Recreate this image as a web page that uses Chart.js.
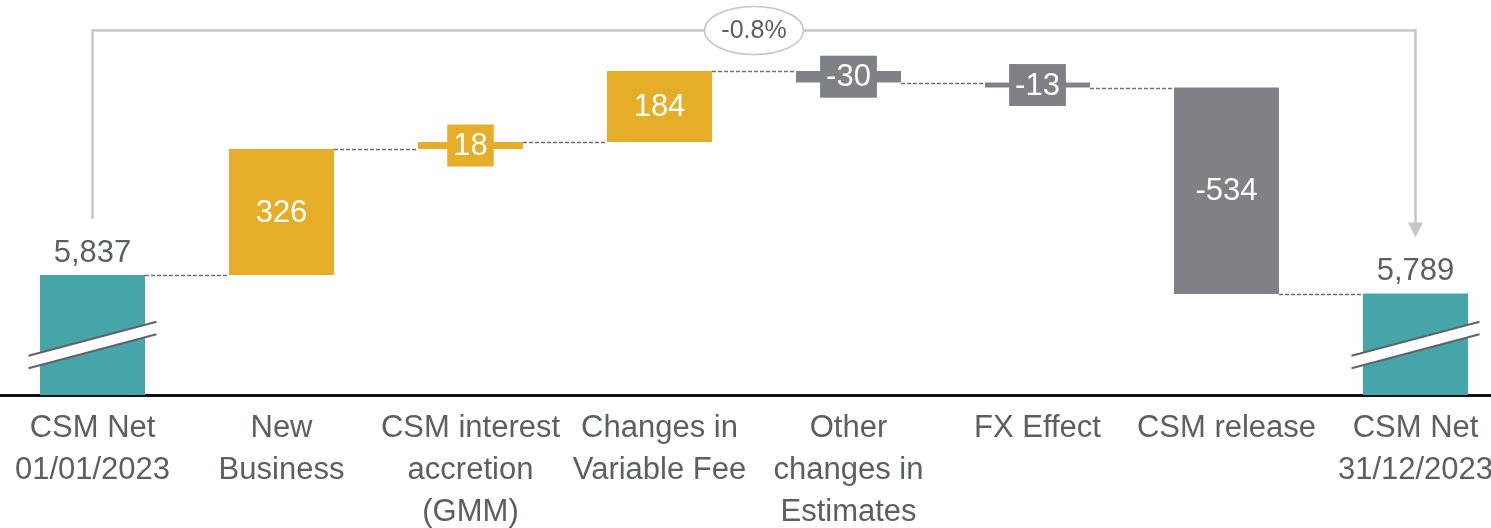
<!DOCTYPE html>
<html>
<head>
<meta charset="utf-8">
<script src="https://cdn.jsdelivr.net/npm/chart.js@4.4.1/dist/chart.umd.min.js"></script>
<style>
  html, body { margin: 0; padding: 0; background: #fff; overflow: hidden; width: 1491px; height: 528px; }
  #wrap { position: absolute; left: -2px; top: 0; width: 1512px; height: 545px; }
</style>
</head>
<body>
<div id="wrap"><canvas id="csmChart"></canvas></div>
<script>
var categories = [
    ['CSM Net', '01/01/2023'],
    ['New', 'Business'],
    ['CSM interest', 'accretion', '(GMM)'],
    ['Changes in', 'Variable Fee'],
    ['Other', 'changes in', 'Estimates'],
    ['FX Effect'],
    ['CSM release'],
    ['CSM Net', '31/12/2023']
];
var values  = [5837, 326, 18, 184, -30, -13, -534, 5789];
var isTotal = [true, false, false, false, false, false, false, true];

var teal   = '#46a5a8',
    orange = '#e6ad28',
    grey   = '#7e8286',
    text   = '#5a5f63',
    light  = '#c6c6c6';

// build floating bars from the running level
// ------------------------------------------------------ //
var ranges = [], ends = [], colors = [], level = 0;
values.forEach(function (v, i) {
    if (isTotal[i]) {
        ranges.push([0, v]);
        level = v;
        colors.push(teal);
    } else {
        ranges.push([level, level + v]);
        level += v;
        colors.push(v >= 0 ? orange : grey);
    }
    ends.push(level);
});

function fmt(v) {
    return v.toLocaleString('en-US');
}

var FONT = "'Liberation Sans', Arial, sans-serif";

var waterfallExtras = {
    id: 'waterfallExtras',
    afterDatasetsDraw: function (chart) {
        var ctx = chart.ctx,
            y = chart.scales.y,
            area = chart.chartArea,
            bars = chart.getDatasetMeta(0).data,
            i, b;

        // dashed connectors
        ctx.save();
        ctx.strokeStyle = '#707070';
        ctx.lineWidth = 1.3;
        ctx.setLineDash([4, 2]);
        for (i = 0; i < bars.length - 1; i++) {
            var py = Math.round(y.getPixelForValue(ends[i])) + 0.5;
            ctx.beginPath();
            ctx.moveTo(bars[i].x + bars[i].width / 2, py);
            ctx.lineTo(bars[i + 1].x - bars[i + 1].width / 2, py);
            ctx.stroke();
        }
        ctx.restore();

        // axis break marks on the totals
        ctx.save();
        for (i = 0; i < bars.length; i++) {
            if (!isTotal[i]) continue;
            b = bars[i];
            var cx = b.x, cy = area.bottom - 50, hw = 64, dy = 17, gap = 6.3;
            ctx.fillStyle = '#fff';
            ctx.beginPath();
            ctx.moveTo(cx - hw, cy - gap + dy);
            ctx.lineTo(cx + hw, cy - gap - dy);
            ctx.lineTo(cx + hw, cy + gap - dy);
            ctx.lineTo(cx - hw, cy + gap + dy);
            ctx.closePath();
            ctx.fill();
            ctx.strokeStyle = '#5f6366';
            ctx.lineWidth = 2;
            ctx.beginPath();
            ctx.moveTo(cx - hw, cy - gap + dy);
            ctx.lineTo(cx + hw, cy - gap - dy);
            ctx.moveTo(cx - hw, cy + gap + dy);
            ctx.lineTo(cx + hw, cy + gap - dy);
            ctx.stroke();
        }
        ctx.restore();

        // value labels
        ctx.save();
        ctx.font = '31px ' + FONT;
        ctx.textAlign = 'center';
        ctx.textBaseline = 'middle';
        for (i = 0; i < bars.length; i++) {
            b = bars[i];
            if (isTotal[i]) {
                ctx.fillStyle = text;
                ctx.fillText(fmt(values[i]), b.x, y.getPixelForValue(ends[i]) - 22);
            } else {
                var top = y.getPixelForValue(Math.max(ranges[i][0], ranges[i][1])),
                    bot = y.getPixelForValue(Math.min(ranges[i][0], ranges[i][1])),
                    my = (top + bot) / 2,
                    label = fmt(values[i]),
                    w = ctx.measureText(label).width + 12;
                ctx.fillStyle = colors[i];
                ctx.fillRect(b.x - w / 2, my - 21, w, 42);
                ctx.fillStyle = '#fff';
                ctx.fillText(label, b.x, my + 1);
            }
        }
        ctx.restore();

        // change bracket with arrow
        var first = bars[0], last = bars[bars.length - 1],
            lineY = 30.5,
            y0 = y.getPixelForValue(ends[0]) - 56,
            y1 = y.getPixelForValue(ends[ends.length - 1]) - 56;
        ctx.save();
        ctx.strokeStyle = light;
        ctx.fillStyle = light;
        ctx.lineWidth = 2.5;
        ctx.beginPath();
        ctx.moveTo(first.x, y0);
        ctx.lineTo(first.x, lineY);
        ctx.lineTo(last.x, lineY);
        ctx.lineTo(last.x, y1 - 14);
        ctx.stroke();
        ctx.beginPath();
        ctx.moveTo(last.x - 7.5, y1 - 15);
        ctx.lineTo(last.x + 7.5, y1 - 15);
        ctx.lineTo(last.x, y1);
        ctx.closePath();
        ctx.fill();

        var ex = (first.x + last.x) / 2,
            pct = (values[values.length - 1] - values[0]) / values[0] * 100;
        ctx.beginPath();
        ctx.ellipse(ex, lineY, 49.5, 24, 0, 0, Math.PI * 2);
        ctx.fillStyle = '#fff';
        ctx.fill();
        ctx.lineWidth = 1.5;
        ctx.stroke();
        ctx.fillStyle = text;
        ctx.font = '25px ' + FONT;
        ctx.textAlign = 'center';
        ctx.textBaseline = 'middle';
        ctx.fillText(pct.toFixed(1) + '%', ex, lineY + 1);
        ctx.restore();
    }
};

// Waterfall Chart
// ------------------------------------------------------ //
new Chart(document.getElementById('csmChart'), {
    type: 'bar',
    plugins: [waterfallExtras],
    data: {
        labels: categories,
        datasets: [{
            data: ranges,
            backgroundColor: colors,
            borderWidth: 0,
            categoryPercentage: 1,
            barPercentage: 0.5556
        }]
    },
    options: {
        responsive: true,
        maintainAspectRatio: false,
        animation: false,
        layout: { padding: 0 },
        plugins: {
            legend: { display: false },
            tooltip: { enabled: false }
        },
        scales: {
            x: {
                grid: { display: false, drawTicks: false },
                border: { display: true, color: '#111', width: 3 },
                ticks: {
                    color: text,
                    padding: 12,
                    autoSkip: false,
                    maxRotation: 0,
                    minRotation: 0,
                    font: { family: FONT, size: 31, lineHeight: '42px' }
                }
            },
            y: {
                display: false,
                min: 5526.5,
                max: 6548.5
            }
        }
    }
});
</script>
</body>
</html>
